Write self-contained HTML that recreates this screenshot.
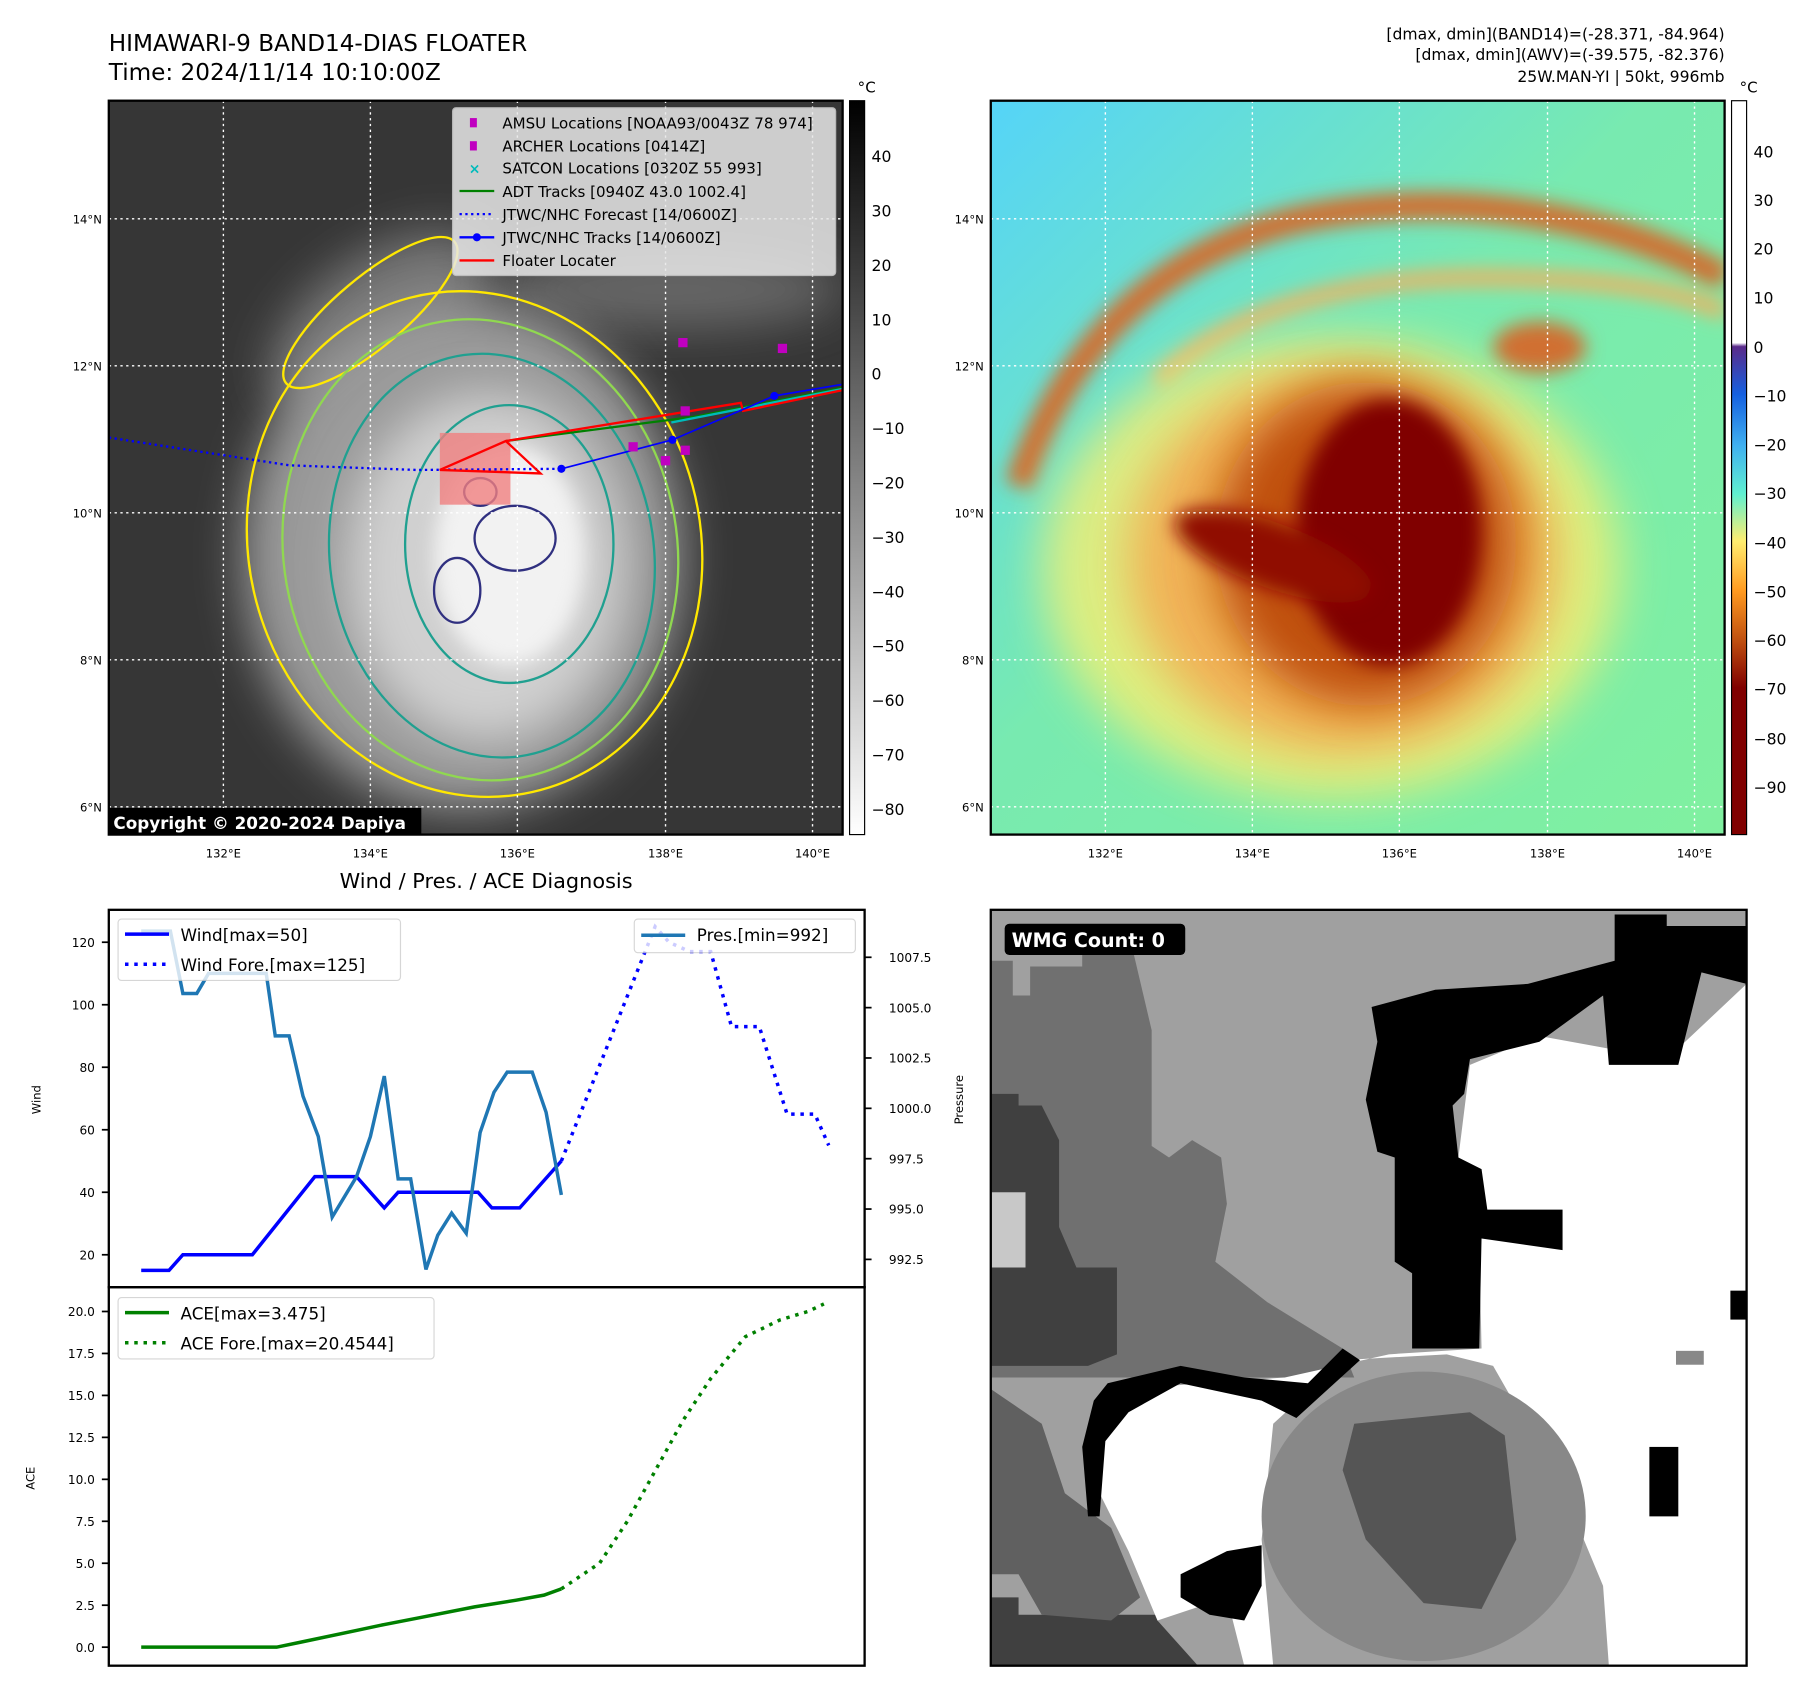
<!DOCTYPE html>
<html><head><meta charset="utf-8"><style>
html,body{margin:0;padding:0;background:#fff;}
svg{display:block;font-family:"DejaVu Sans","Liberation Sans",sans-serif;}
</style></head><body>
<svg id="root" width="1801" height="1690" viewBox="0 0 1556 1460" preserveAspectRatio="none" xmlns="http://www.w3.org/2000/svg">
<defs>
<filter id="b8" x="-50%" y="-50%" width="200%" height="200%"><feGaussianBlur stdDeviation="8"/></filter>
<filter id="b20" x="-50%" y="-50%" width="200%" height="200%"><feGaussianBlur stdDeviation="20"/></filter>
<linearGradient id="gray" x1="0" y1="0" x2="0" y2="1"><stop offset="0" stop-color="#000"/><stop offset="1" stop-color="#fff"/></linearGradient>
<linearGradient id="cb2" x1="0" y1="87" x2="0" y2="721" gradientUnits="userSpaceOnUse">
<stop offset="0" stop-color="#fff"/><stop offset="0.33" stop-color="#fff"/><stop offset="0.335" stop-color="#5a2a8a"/>
<stop offset="0.4" stop-color="#1560e0"/><stop offset="0.47" stop-color="#40b0f0"/><stop offset="0.536" stop-color="#60f0d0"/>
<stop offset="0.6" stop-color="#ffee70"/><stop offset="0.668" stop-color="#ff9a20"/><stop offset="0.735" stop-color="#c05010"/><stop offset="0.8" stop-color="#800000"/><stop offset="1" stop-color="#800000"/></linearGradient>
<linearGradient id="bgR" x1="0" y1="0" x2="1" y2="1"><stop offset="0" stop-color="#55d4f8"/><stop offset="0.45" stop-color="#78eab0"/><stop offset="1" stop-color="#80f0a0"/></linearGradient>
<clipPath id="cL"><rect x="94" y="87" width="634" height="634"/></clipPath>
<clipPath id="cR"><rect x="856" y="87" width="634" height="634"/></clipPath>
<clipPath id="cW"><rect x="856" y="786" width="653" height="653"/></clipPath>
</defs>

<text x="94" y="44" font-size="20">HIMAWARI-9 BAND14-DIAS FLOATER</text>
<text x="94" y="69" font-size="20">Time: 2024/11/14 10:10:00Z</text>
<g font-size="13.5" text-anchor="end">
<text x="1490" y="34">[dmax, dmin](BAND14)=(-28.371, -84.964)</text>
<text x="1490" y="52">[dmax, dmin](AWV)=(-39.575, -82.376)</text>
<text x="1490" y="71">25W.MAN-YI | 50kt, 996mb</text>
</g>

<g clip-path="url(#cL)">
<rect x="94" y="87" width="634" height="634" fill="#363636"/>
<ellipse cx="330" cy="280" rx="110" ry="60" fill="#777" filter="url(#b20)" transform="rotate(-35 330 280)"/>
<ellipse cx="580" cy="250" rx="150" ry="35" fill="#666" filter="url(#b20)"/>
<ellipse cx="400" cy="480" rx="190" ry="220" fill="#9a9a9a" filter="url(#b20)"/>
<ellipse cx="420" cy="490" rx="120" ry="150" fill="#d0d0d0" filter="url(#b20)"/>
<ellipse cx="440" cy="480" rx="65" ry="95" fill="#f2f2f2" filter="url(#b8)"/>
<g fill="none" stroke-width="2">
<ellipse cx="410" cy="470" rx="195" ry="220" stroke="#ffe800" transform="rotate(-15 410 470)"/>
<ellipse cx="320" cy="270" rx="95" ry="30" stroke="#ffe800" transform="rotate(-40 320 270)"/>
<ellipse cx="415" cy="475" rx="170" ry="200" stroke="#90d850" transform="rotate(-10 415 475)"/>
<ellipse cx="425" cy="480" rx="140" ry="175" stroke="#20a090" transform="rotate(-8 425 480)"/>
<ellipse cx="440" cy="470" rx="90" ry="120" stroke="#20a090"/>
<ellipse cx="445" cy="465" rx="35" ry="28" stroke="#303080"/>
<ellipse cx="395" cy="510" rx="20" ry="28" stroke="#303080"/>
<ellipse cx="415" cy="425" rx="14" ry="12" stroke="#303080"/>
</g>
<rect x="380" y="374" width="61" height="62" fill="#f08080" opacity="0.8"/>
<g stroke="#fff" stroke-width="1.2" stroke-dasharray="2,3">
<line x1="193" y1="87" x2="193" y2="721"/><line x1="320" y1="87" x2="320" y2="721"/><line x1="447" y1="87" x2="447" y2="721"/><line x1="575" y1="87" x2="575" y2="721"/><line x1="702" y1="87" x2="702" y2="721"/>
<line x1="94" y1="189" x2="728" y2="189"/><line x1="94" y1="316" x2="728" y2="316"/><line x1="94" y1="443" x2="728" y2="443"/><line x1="94" y1="570" x2="728" y2="570"/><line x1="94" y1="697" x2="728" y2="697"/>
</g>
<polyline points="94,378 250,402 360,406 485,405" fill="none" stroke="#0000ff" stroke-width="2" stroke-dasharray="2,3"/>
<polyline points="437,381 600,360 728,335" fill="none" stroke="#008000" stroke-width="2"/>
<polyline points="580,365 728,336" fill="none" stroke="#00bbbb" stroke-width="2"/>
<polyline points="437,381 467,409 380,406 437,381 640,348 642,355 728,337" fill="none" stroke="#ff0000" stroke-width="2"/>
<polyline points="485,405 581,380 669,342 728,332" fill="none" stroke="#0000ff" stroke-width="1.5"/>
<g fill="#0000ff"><circle cx="485" cy="405" r="3.5"/><circle cx="581" cy="380" r="3.5"/><circle cx="669" cy="342" r="3.5"/></g>
<g fill="#c000c0">
<rect x="586" y="292" width="8" height="8"/><rect x="672" y="297" width="8" height="8"/><rect x="588" y="351" width="8" height="8"/><rect x="543" y="382" width="8" height="8"/><rect x="588" y="385" width="8" height="8"/><rect x="571" y="394" width="8" height="8"/></g>
<rect x="94" y="698" width="270" height="23" fill="#000"/>
<text x="98" y="716" font-size="14.5" font-weight="bold" fill="#fff">Copyright © 2020-2024 Dapiya</text>
</g>
<rect x="94" y="87" width="634" height="634" fill="none" stroke="#000" stroke-width="2"/>
<g font-size="13">
<rect x="391" y="93" width="331" height="145" rx="3" fill="#e8e8e8" opacity="0.85" stroke="#ccc"/>
<rect x="406" y="102" width="6" height="8" fill="#c000c0"/><text x="434" y="111">AMSU Locations [NOAA93/0043Z 78 974]</text>
<rect x="406" y="122" width="6" height="8" fill="#c000c0"/><text x="434" y="131">ARCHER Locations [0414Z]</text>
<text x="405" y="150" fill="#00bbbb" font-size="12" font-weight="bold">×</text><text x="434" y="150">SATCON Locations [0320Z 55 993]</text>
<line x1="397" y1="165" x2="427" y2="165" stroke="#008000" stroke-width="2"/><text x="434" y="170">ADT Tracks [0940Z 43.0 1002.4]</text>
<line x1="397" y1="185" x2="427" y2="185" stroke="#0000ff" stroke-width="2" stroke-dasharray="2,3"/><text x="434" y="190">JTWC/NHC Forecast [14/0600Z]</text>
<line x1="397" y1="205" x2="427" y2="205" stroke="#0000ff" stroke-width="2"/><circle cx="412" cy="205" r="3.5" fill="#00f"/><text x="434" y="210">JTWC/NHC Tracks [14/0600Z]</text>
<line x1="397" y1="225" x2="427" y2="225" stroke="#ff0000" stroke-width="2"/><text x="434" y="230">Floater Locater</text>
</g>
<g font-size="10" >
<g text-anchor="middle"><text x="193" y="741">132°E</text><text x="320" y="741">134°E</text><text x="447" y="741">136°E</text><text x="575" y="741">138°E</text><text x="702" y="741">140°E</text></g>
<g text-anchor="end"><text x="88" y="193">14°N</text><text x="88" y="320">12°N</text><text x="88" y="447">10°N</text><text x="88" y="574">8°N</text><text x="88" y="701">6°N</text></g>
</g>
<rect x="734" y="87" width="13" height="634" fill="url(#gray)" stroke="#000"/>
<text x="741" y="80" font-size="13">°C</text>
<g font-size="13.5">
<text x="753" y="140">40</text><text x="753" y="187">30</text><text x="753" y="234">20</text><text x="753" y="281">10</text><text x="753" y="328">0</text><text x="753" y="375">−10</text><text x="753" y="422">−20</text><text x="753" y="469">−30</text><text x="753" y="516">−40</text><text x="753" y="563">−50</text><text x="753" y="610">−60</text><text x="753" y="657">−70</text><text x="753" y="704">−80</text></g>

<g clip-path="url(#cR)">
<rect x="856" y="87" width="634" height="634" fill="url(#bgR)"/>
<path d="M880,420 C920,300 1000,220 1120,190 C1260,160 1400,190 1490,240" fill="none" stroke="#d07030" stroke-width="24" filter="url(#b8)"/>
<path d="M1000,330 C1060,270 1160,240 1280,240 C1380,240 1450,250 1490,270" fill="none" stroke="#f0b060" stroke-width="14" filter="url(#b8)"/>
<ellipse cx="1150" cy="490" rx="250" ry="200" fill="#fff070" opacity="0.75" filter="url(#b20)"/>
<ellipse cx="1160" cy="485" rx="185" ry="165" fill="#f4a850" opacity="0.85" filter="url(#b20)"/>
<ellipse cx="1180" cy="470" rx="130" ry="140" fill="#c05010" filter="url(#b20)"/>
<ellipse cx="1200" cy="460" rx="80" ry="115" fill="#800000" filter="url(#b8)"/>
<ellipse cx="1100" cy="480" rx="90" ry="28" fill="#901000" filter="url(#b8)" transform="rotate(20 1100 480)"/>
<ellipse cx="1330" cy="300" rx="40" ry="22" fill="#d07030" filter="url(#b8)"/>
<g stroke="#fff" stroke-width="1.2" stroke-dasharray="2,3">
<line x1="955" y1="87" x2="955" y2="721"/><line x1="1082" y1="87" x2="1082" y2="721"/><line x1="1209" y1="87" x2="1209" y2="721"/><line x1="1337" y1="87" x2="1337" y2="721"/><line x1="1464" y1="87" x2="1464" y2="721"/>
<line x1="856" y1="189" x2="1490" y2="189"/><line x1="856" y1="316" x2="1490" y2="316"/><line x1="856" y1="443" x2="1490" y2="443"/><line x1="856" y1="570" x2="1490" y2="570"/><line x1="856" y1="697" x2="1490" y2="697"/>
</g>
</g>
<rect x="856" y="87" width="634" height="634" fill="none" stroke="#000" stroke-width="2"/>
<g font-size="10">
<g text-anchor="middle"><text x="955" y="741">132°E</text><text x="1082" y="741">134°E</text><text x="1209" y="741">136°E</text><text x="1337" y="741">138°E</text><text x="1464" y="741">140°E</text></g>
<g text-anchor="end"><text x="850" y="193">14°N</text><text x="850" y="320">12°N</text><text x="850" y="447">10°N</text><text x="850" y="574">8°N</text><text x="850" y="701">6°N</text></g>
</g>
<rect x="1496" y="87" width="13" height="634" fill="url(#cb2)" stroke="#000"/>
<text x="1503" y="80" font-size="13">°C</text>
<g font-size="13.5">
<text x="1515" y="136">40</text><text x="1515" y="178">30</text><text x="1515" y="220">20</text><text x="1515" y="262">10</text><text x="1515" y="305">0</text><text x="1515" y="347">−10</text><text x="1515" y="389">−20</text><text x="1515" y="431">−30</text><text x="1515" y="474">−40</text><text x="1515" y="516">−50</text><text x="1515" y="558">−60</text><text x="1515" y="600">−70</text><text x="1515" y="643">−80</text><text x="1515" y="685">−90</text></g>

<g clip-path="url(#cW)">
<rect x="856" y="786" width="653" height="653" fill="#a0a0a0"/>
<polygon points="856,830 875,830 875,860 890,860 890,835 935,835 935,805 975,805 995,890 995,990 1010,1000 1030,985 1055,1000 1060,1040 1050,1090 1095,1125 1160,1165 1170,1190 856,1190" fill="#707070"/>
<polygon points="856,945 880,945 880,955 900,955 915,985 915,1060 930,1095 965,1095 965,1170 940,1180 856,1180" fill="#404040"/>
<rect x="856" y="1030" width="30" height="65" fill="#c8c8c8"/>
<polygon points="856,1380 880,1380 880,1395 1000,1395 1000,1400 1035,1439 856,1439" fill="#404040"/>
<polygon points="856,1200 900,1230 920,1290 960,1320 985,1380 960,1400 900,1395 880,1360 856,1360" fill="#606060"/>
<polygon points="1270,920 1330,895 1440,915 1509,850 1509,1439 1390,1439 1385,1370 1360,1310 1330,1250 1290,1180 1250,1170 1160,1175 1100,1230 1090,1330 1100,1439 1075,1439 1060,1380 1000,1400 975,1340 945,1280 950,1240 975,1200 1040,1195 1110,1190 1200,1170 1280,1165 1278,1070 1260,1000" fill="#fff"/>
<polygon points="1185,870 1240,855 1320,850 1395,830 1395,790 1440,790 1440,800 1509,800 1509,850 1470,840 1450,920 1390,920 1385,860 1330,900 1270,915 1265,945 1255,955 1260,1000 1280,1010 1285,1045 1350,1045 1350,1080 1280,1070 1278,1165 1220,1165 1220,1100 1205,1090 1205,1000 1190,995 1180,950 1190,900" fill="#000"/>
<polygon points="957,1195 1020,1180 1075,1190 1130,1195 1160,1165 1175,1175 1120,1225 1090,1210 1020,1195 975,1220 955,1245 950,1310 940,1310 935,1250 945,1210" fill="#000"/>
<polygon points="1020,1360 1060,1340 1090,1335 1090,1370 1075,1400 1045,1395 1020,1380" fill="#000"/>
<ellipse cx="1230" cy="1310" rx="140" ry="125" fill="#888"/>
<polygon points="1170,1230 1270,1220 1300,1240 1310,1330 1280,1390 1230,1385 1180,1330 1160,1270" fill="#555"/>
<rect x="1425" y="1250" width="25" height="60" fill="#000"/><rect x="1495" y="1115" width="14" height="25" fill="#000"/><rect x="1448" y="1167" width="24" height="12" fill="#888"/>
<rect x="868" y="798" width="156" height="27" rx="4" fill="#000"/>
<text x="874" y="818" font-size="16.5" font-weight="bold" fill="#fff">WMG Count: 0</text>
</g>
<rect x="856" y="786" width="653" height="653" fill="none" stroke="#000" stroke-width="2"/>

<text x="420" y="767" font-size="18" text-anchor="middle">Wind / Pres. / ACE Diagnosis</text>
<rect x="94" y="786" width="653" height="326" fill="none" stroke="#000" stroke-width="2"/>
<rect x="94" y="1112" width="653" height="327" fill="none" stroke="#000" stroke-width="2"/>
<text font-size="10" transform="translate(35 950) rotate(-90)" text-anchor="middle">Wind</text>
<text font-size="10" transform="translate(832 950) rotate(-90)" text-anchor="middle">Pressure</text>
<text font-size="10" transform="translate(30 1277) rotate(-90)" text-anchor="middle">ACE</text>
<g id="charts"></g>
<g font-size="14.5">
<rect x="102" y="794" width="244" height="53" rx="3" fill="#fff" opacity="0.8" stroke="#ccc"/>
<line x1="108" y1="807" x2="146" y2="807" stroke="#0000ff" stroke-width="3"/><text x="156" y="813">Wind[max=50]</text>
<line x1="108" y1="833" x2="146" y2="833" stroke="#0000ff" stroke-width="3" stroke-dasharray="3,5"/><text x="156" y="839">Wind Fore.[max=125]</text>
</g>
<g font-size="14.5">
<rect x="548" y="794" width="191" height="29" rx="3" fill="#fff" opacity="0.8" stroke="#ccc"/>
<line x1="554" y1="808" x2="592" y2="808" stroke="#1f77b4" stroke-width="3"/><text x="602" y="813">Pres.[min=992]</text>
</g>
<g font-size="14.5">
<rect x="102" y="1121" width="273" height="53" rx="3" fill="#fff" opacity="0.8" stroke="#ccc"/>
<line x1="108" y1="1134" x2="146" y2="1134" stroke="#008000" stroke-width="3"/><text x="156" y="1140">ACE[max=3.475]</text>
<line x1="108" y1="1160" x2="146" y2="1160" stroke="#008000" stroke-width="3" stroke-dasharray="3,5"/><text x="156" y="1166">ACE Fore.[max=20.4544]</text>
</g>
</svg>
<script>
const windTimes=[0,4,6,16,25,31,35,37,48.5,50.5,54.5,60.5];
const windValues=[15,15,20,20,45,45,35,40,40,35,35,50];
const foreTimes=[60.5,74,76,79,82,85,89,93,97,99];
const foreValues=[50,125,120,117,117,93,93,65,65,55];
const presTimes=[0,4.2,6,8,9.7,18,19.3,21.3,23.3,25.5,27.5,31,33,35,37,38.8,41,42.7,44.7,46.8,48.8,50.8,52.7,56.3,58.3,60.5];
const presValues=[1008.8,1008.8,1005.7,1005.7,1006.7,1006.7,1003.6,1003.6,1000.6,998.6,994.6,996.6,998.6,1001.6,996.5,996.5,992,993.7,994.8,993.8,998.8,1000.8,1001.8,1001.8,999.8,995.7];
const aceTimes=[0,19.5,23,31,35,40,48,54,58,60.5];
const aceValues=[0,0,0.3,1.0,1.35,1.75,2.4,2.8,3.1,3.475];
const aceForeTimes=[60.5,66,70,74,78,82,87,92,96,98.3];
const aceForeValues=[3.475,5,7.5,10.5,13.5,16,18.5,19.5,20,20.45];
const windTicks=[20,40,60,80,100,120];
const presTicks=[992.5,995,997.5,1000,1002.5,1005,1007.5];
const aceTicks=[0,2.5,5,7.5,10,12.5,15,17.5,20];

function xS(t){return 122+t*6;}
function yW(v){return 1084-(v-20)*2.7;}
function yP(p){return 1088-(p-992.5)*17.4;}
function yA(a){return 1423-a*14.5;}
const NS='http://www.w3.org/2000/svg';
const g=document.getElementById('charts');
function line(ts,vs,ys,color,w,dash,name){
  const p=document.createElementNS(NS,'polyline');
  p.setAttribute('points',ts.map((t,i)=>xS(t)+','+ys(vs[i])).join(' '));
  p.setAttribute('fill','none');p.setAttribute('stroke',color);p.setAttribute('stroke-width',w);
  if(dash)p.setAttribute('stroke-dasharray',dash);
  
  
  g.appendChild(p);
}
line(foreTimes,foreValues,yW,'#0000ff',3,'3,5','wind-forecast-line');
line(windTimes,windValues,yW,'#0000ff',3,null,'wind-line');
line(presTimes,presValues,yP,'#1f77b4',3,null,'pressure-line');
line(aceForeTimes,aceForeValues,yA,'#008000',3,'3,5','ace-forecast-line');
line(aceTimes,aceValues,yA,'#008000',3,null,'ace-line');
function tick(x1,y,x2,label,tx,anchor,name){
  const l=document.createElementNS(NS,'line');
  l.setAttribute('x1',x1);l.setAttribute('x2',x2);l.setAttribute('y1',y);l.setAttribute('y2',y);l.setAttribute('stroke','#000');l.setAttribute('stroke-width',1.5);
  g.appendChild(l);
  const t=document.createElementNS(NS,'text');
  t.setAttribute('x',tx);t.setAttribute('y',y+4);t.setAttribute('font-size','10.5');t.setAttribute('text-anchor',anchor);
  t.textContent=label;
  
  
  g.appendChild(t);
}
windTicks.forEach(v=>tick(88,yW(v),94,String(v),82,'end','wind-tick-label'));
presTicks.forEach(v=>tick(747,yP(v),753,v.toFixed(1),768,'start','pressure-tick-label'));
aceTicks.forEach(v=>tick(88,yA(v),94,v.toFixed(1),82,'end','ace-tick-label'));
</script>
</body></html>
